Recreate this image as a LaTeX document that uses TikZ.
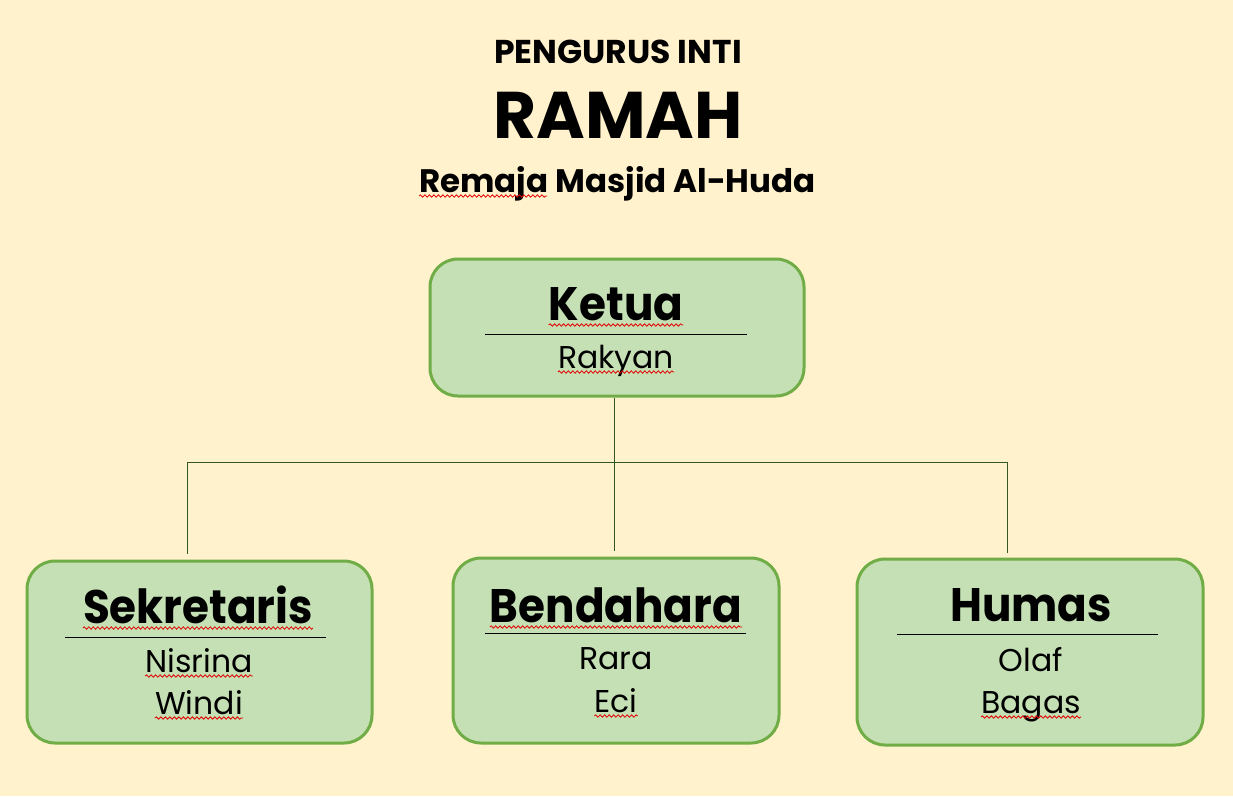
\documentclass[tikz,border=0pt]{standalone}
\usepackage{fontspec}
\setmainfont{Poppins}
\newfontfamily\popbold{Poppins}[UprightFont=* Bold]
\newfontfamily\popboldn{Poppins}[UprightFont=* Bold, FakeStretch=0.93]
\newfontfamily\popreg{Poppins}
\usetikzlibrary{decorations.pathmorphing}
\definecolor{bg}{HTML}{FFF2CC}
\definecolor{boxfill}{HTML}{C5E0B4}
\definecolor{boxline}{HTML}{70AD47}
\definecolor{conncol}{HTML}{375623}
\tikzset{
  box/.style={draw=boxline, fill=boxfill, line width=3pt, rounded corners=28pt, inner sep=0pt},
  ttl/.style={inner sep=0pt, anchor=base, font=\popboldn\fontsize{47}{50}\selectfont},
  nm/.style={inner sep=0pt, anchor=base, font=\popreg\fontsize{31.5}{36}\selectfont},
  conn/.style={draw=conncol, line width=1pt},
  rule/.style={draw=black, line width=1pt},
  squig/.style={draw=red!90!black, line width=0.8pt, decorate, decoration={snake, amplitude=1.2pt, segment length=4.5pt}}
}
\begin{document}
\begin{tikzpicture}[x=1pt,y=-1pt]
\fill[bg] (0,0) rectangle (1233,796);
\useasboundingbox (0,0) rectangle (1233,796);
% titles
\node[inner sep=0pt, anchor=base, font=\popbold\fontsize{33}{36}\selectfont] (t1) at (618,63) {PENGURUS INTI};
\node[inner sep=0pt, anchor=base, font=\popbold\fontsize{66}{70}\selectfont] (t2) at (618,138) {RAMAH};
\node[inner sep=0pt, anchor=base, font=\popbold\fontsize{32.5}{36}\selectfont] (t3) at (617.5,192) {Remaja Masjid Al-Huda};
% boxes
\node[box, minimum width=374pt, minimum height=137pt] (ketua) at (617,327.5) {};
\node[box, minimum width=345pt, minimum height=182pt] (sek) at (199.5,652) {};
\node[box, minimum width=326pt, minimum height=185pt] (bend) at (616,650.5) {};
\node[box, minimum width=346pt, minimum height=186pt] (hum) at (1030,652) {};
% connectors
\coordinate (j) at (614,462);
\coordinate (jl) at (187,462);
\coordinate (jr) at (1008,462);
\draw[conn] (ketua.south -| j) -- ([yshift=6pt]bend.north -| j);
\draw[conn] (jl) -- (jr);
\draw[conn] (jl) -- ([yshift=6pt]sek.north -| jl);
\draw[conn] ([xshift=-1pt]jr) -- ([yshift=5pt,xshift=-1pt]hum.north -| jr);
% Ketua
\node[ttl] (kt) at (616,320) {Ketua};
\draw[rule] (485,334) -- (747,334);
\node[nm] (kn) at (616,368) {Rakyan};
% Sekretaris
\node[ttl] (st) at (198,623) {Sekretaris};
\draw[rule] (65,637) -- (326,637);
\node[nm] (sn1) at (199,672) {Nisrina};
\node[nm] (sn2) at (199,714) {Windi};
% Bendahara
\node[ttl] (bt) at (616,622) {Bendahara};
\draw[rule] (485,633) -- (746,633);
\node[nm] (bn1) at (616,669) {Rara};
\node[nm] (bn2) at (616,712) {Eci};
% Humas
\node[ttl] (ht) at (1031,621) {Humas};
\draw[rule] (897,634) -- (1158,634);
\node[nm] (hn1) at (1031,671) {Olaf};
\node[nm] (hn2) at (1031,713) {Bagas};
% spell-check squiggles
\foreach \n/\d in {kt/5, kn/4, st/5, sn1/4, sn2/4, bt/5, bn2/4, hn2/4}{
  \draw[squig] ([yshift=-\d pt]\n.base west) -- ([yshift=-\d pt]\n.base east);
}
\path (t3.base west) ++(0,4) coordinate (r0);
\draw[squig] (r0) -- ++(128,0);
\end{tikzpicture}
\end{document}
